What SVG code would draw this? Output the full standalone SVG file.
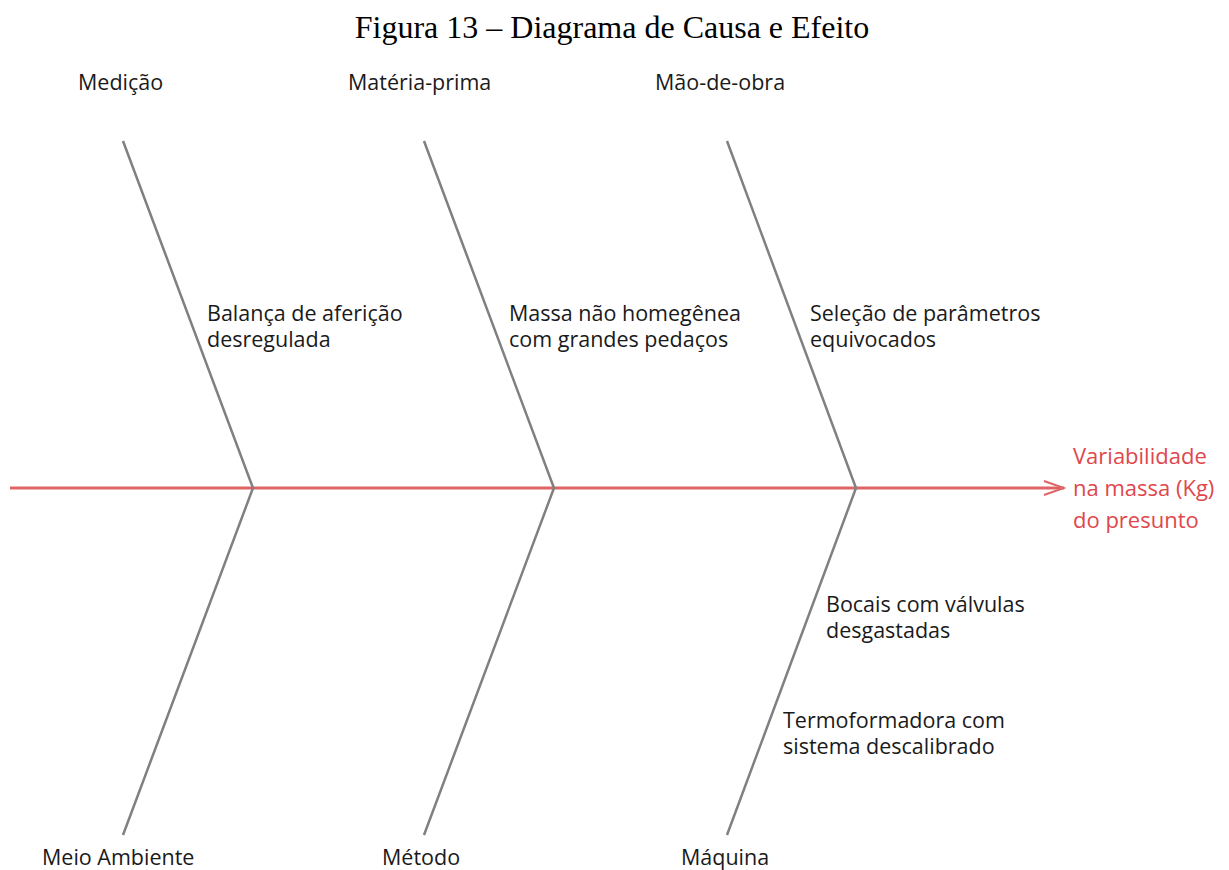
<svg xmlns="http://www.w3.org/2000/svg" width="1229" height="870" viewBox="0 0 1229 870">
<style>
.t{font-family:"Open Sans","Noto Sans","DejaVu Sans",sans-serif;font-size:21.5px;fill:#1a1a1a}
.title{font-family:"Liberation Serif","Times New Roman",serif;font-size:32px;fill:#000}
.eff{font-family:"Open Sans","Noto Sans",sans-serif;font-size:22px;fill:#e0474c}
.bone{fill:none;stroke:#808080;stroke-width:2.5}
</style>
<defs>
<marker id="arr" markerWidth="24" markerHeight="16" refX="22" refY="8" orient="auto" markerUnits="userSpaceOnUse">
<path d="M2,1 L22,8 L2,15" fill="none" stroke="#e06464" stroke-width="2"/>
</marker>
</defs>
<rect width="1229" height="870" fill="#fff"/>
<text class="title" x="612" y="38" text-anchor="middle">Figura 13 – Diagrama de Causa e Efeito</text>
<g id="connectors">
<line x1="10" y1="488" x2="1064" y2="488" stroke="#e06464" stroke-width="3" marker-end="url(#arr)"/>
<polyline class="bone" points="123,141 253,488 123,835"/>
<polyline class="bone" points="424,141 554,488 424,835"/>
<polyline class="bone" points="727,141 856,488 727,835"/>
</g>
<g id="medicao"><text class="t" x="78" y="90">Medição</text></g>
<g id="materia"><text class="t" x="348" y="90">Matéria-prima</text></g>
<g id="maodeobra"><text class="t" x="655" y="90">Mão-de-obra</text></g>
<g id="meioambiente"><text class="t" x="42" y="865">Meio Ambiente</text></g>
<g id="metodo"><text class="t" x="382" y="865">Método</text></g>
<g id="maquina"><text class="t" x="681" y="865">Máquina</text></g>
<g id="balanca"><text class="t" x="207" y="321">Balança de aferição</text><text class="t" x="207" y="347">desregulada</text></g>
<g id="massa"><text class="t" x="509" y="321">Massa não homegênea</text><text class="t" x="509" y="347">com grandes pedaços</text></g>
<g id="selecao"><text class="t" x="810" y="321">Seleção de parâmetros</text><text class="t" x="810" y="347">equivocados</text></g>
<g id="bocais"><text class="t" x="826" y="612">Bocais com válvulas</text><text class="t" x="826" y="638">desgastadas</text></g>
<g id="termo"><text class="t" x="783" y="728">Termoformadora com</text><text class="t" x="783" y="754">sistema descalibrado</text></g>
<g id="efeito"><text class="eff" x="1073" y="464">Variabilidade</text><text class="eff" x="1073" y="496">na massa (Kg)</text><text class="eff" x="1073" y="528">do presunto</text></g>
</svg>
